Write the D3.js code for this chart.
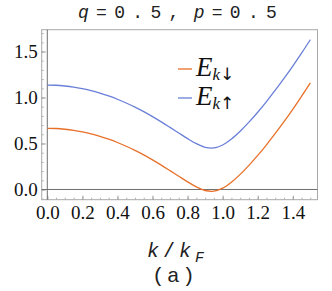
<!DOCTYPE html>
<html><head><meta charset="utf-8">
<script src="https://cdn.jsdelivr.net/npm/d3@7"></script>
<style>body{margin:0;background:#fff}svg{display:block}</style>
</head><body><svg id="c" width="332" height="291"></svg>
<script>
const kValues = [0,0.05,0.1,0.15,0.2,0.25,0.3,0.35,0.4,0.45,0.5,0.55,0.6,0.65,0.7,0.75,0.8,0.85,0.9,0.95,1.0,1.05,1.1,1.15,1.2,1.25,1.3,1.35,1.4,1.45,1.5];
const eDown = [0.665,0.663,0.655,0.643,0.626,0.605,0.578,0.547,0.511,0.470,0.425,0.376,0.322,0.265,0.205,0.144,0.083,0.028,-0.011,-0.018,0.014,0.079,0.164,0.262,0.370,0.486,0.609,0.738,0.872,1.012,1.158];
const eUp = [1.135,1.133,1.125,1.113,1.096,1.075,1.048,1.017,0.981,0.940,0.895,0.846,0.792,0.735,0.675,0.614,0.553,0.498,0.459,0.452,0.484,0.549,0.634,0.732,0.840,0.956,1.079,1.208,1.342,1.482,1.628];
const xTicks = [0,0.2,0.4,0.6,0.8,1.0,1.2,1.4];
const yTicks = [0,0.5,1.0,1.5];
const seriesNames = ["↓","↑"];
const colors = ["#e8702a","#6a7fd8"];

const SERIF = '"Liberation Serif"';
const MONO = '"Liberation Mono"';
const svg = d3.select("#c");
const L=41.7, R=317.5, T=29.7, B=199.7;
const x = d3.scaleLinear().domain([-0.032,1.541]).range([L,R]);
const y = d3.scaleLinear().domain([-0.111,1.737]).range([B,T]);

svg.append("rect").attr("x",L).attr("y",T).attr("width",R-L).attr("height",B-T)
  .attr("fill","none").attr("stroke","#a8a8a8").attr("stroke-width",1);

const xMinor = d3.range(0,1.5001,0.05);
const yMinor = d3.range(-0.1,1.7001,0.1);
svg.append("g").attr("transform",`translate(0,${B})`)
  .call(d3.axisBottom(x).tickValues(xMinor).tickSize(-2).tickFormat(""))
  .call(g=>{g.select(".domain").remove();g.selectAll("line").attr("stroke","#b0b0b0");});
svg.append("g").attr("transform",`translate(${L},0)`)
  .call(d3.axisLeft(y).tickValues(yMinor).tickSize(-2).tickFormat(""))
  .call(g=>{g.select(".domain").remove();g.selectAll("line").attr("stroke","#b0b0b0");});

function styleAxis(g){
  g.select(".domain").remove();
  g.selectAll("line").attr("stroke","#999");
  g.selectAll("text").style("font-family",SERIF).style("font-size","19px").attr("fill","#111");
}
svg.append("g").attr("transform",`translate(0,${B})`)
  .call(d3.axisBottom(x).tickValues(xTicks).tickSizeInner(-4).tickSizeOuter(0).tickPadding(6).tickFormat(d3.format(".1f")))
  .call(styleAxis);
svg.append("g").attr("transform",`translate(${L},0)`)
  .call(d3.axisLeft(y).tickValues(yTicks).tickSizeInner(-4).tickSizeOuter(0).tickPadding(4).tickFormat(d3.format(".1f")))
  .call(styleAxis);

svg.append("line").attr("x1",L).attr("x2",R).attr("y1",y(0)).attr("y2",y(0)).attr("stroke","#707070").attr("stroke-width",1);
svg.append("line").attr("x1",x(0)).attr("x2",x(0)).attr("y1",T).attr("y2",B).attr("stroke","#707070").attr("stroke-width",1);

const line = d3.line().x((d,i)=>x(kValues[i])).y(d=>y(d)).curve(d3.curveCatmullRom);
[eDown,eUp].forEach((s,i)=>{
  svg.append("path").datum(s).attr("d",line).attr("fill","none").attr("stroke",colors[i]).attr("stroke-width",1.3);
});

const legY=[69,98];
seriesNames.forEach((n,i)=>{
  svg.append("line").attr("x1",178).attr("x2",192).attr("y1",legY[i]).attr("y2",legY[i]).attr("stroke",colors[i]).attr("stroke-width",1.3);
  const t = svg.append("text").attr("x",196).attr("y",legY[i]+7).attr("fill","#111").style("font-family",SERIF);
  t.append("tspan").style("font-style","italic").style("font-size","27px").text("E");
  t.append("tspan").style("font-style","italic").style("font-size","17px").attr("dy",4).text("k");
  t.append("tspan").style("font-size","17px").style("font-family",'"DejaVu Sans"').text(n);
});

const tt = svg.append("text").attr("x",78).attr("y",18).style("font-family",MONO).style("font-size","18px").style("letter-spacing","7.3px").attr("fill","#222");
tt.append("tspan").style("font-style","italic").text("q");
tt.append("tspan").text("=0.5,");
tt.append("tspan").attr("dx",7).style("font-style","italic").text("p");
tt.append("tspan").text("=0.5");

const xl = svg.append("text").attr("x",147).attr("y",257).style("font-family",MONO).style("font-size","20px").style("letter-spacing","4px").attr("fill","#222");
xl.append("tspan").style("font-style","italic").text("k");
xl.append("tspan").text("/");
xl.append("tspan").style("font-style","italic").text("k");
xl.append("tspan").style("font-style","italic").style("font-size","15px").attr("dy",5).style("letter-spacing","0px").text("F");

svg.append("text").attr("x",152).attr("y",282).style("font-family",MONO).style("font-size","21px").style("letter-spacing","2.5px").attr("fill","#222").text("(a)");
</script></body></html>
